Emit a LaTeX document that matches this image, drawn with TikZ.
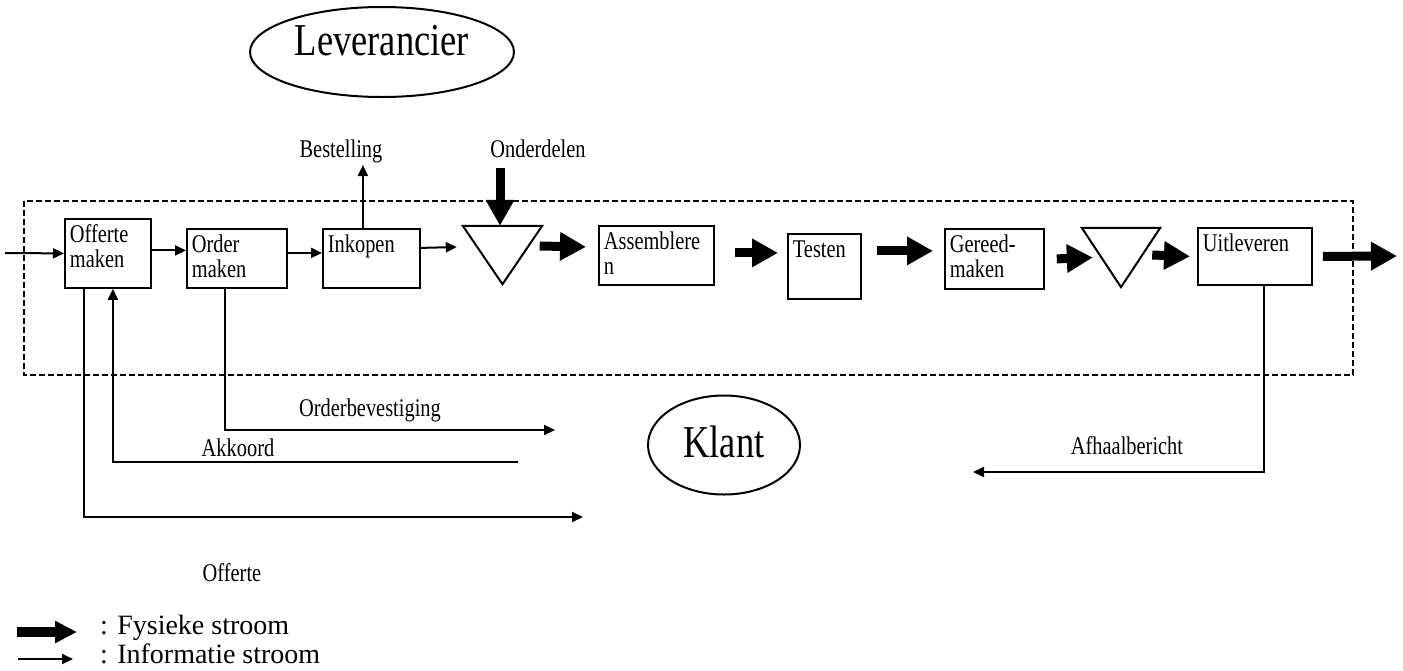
\documentclass[tikz,border=0pt]{standalone}
\usepackage{fontspec}
\setmainfont{Liberation Serif}
\newfontfamily\diagramfont{Liberation Serif}[FakeStretch=0.8]
\newcommand\kleinfont{\diagramfont\fontsize{25.5}{24.5}\selectfont}
\newcommand\grootfont{\diagramfont\fontsize{45.6}{50}\selectfont}
\newcommand\legendafont{\fontsize{28}{32}\selectfont}
\usepackage{tikz}
\usetikzlibrary{arrows.meta,shapes}

\begin{document}
\begin{tikzpicture}[x=1pt,y=-1pt,
  proces/.style 2 args={draw, line width=1.8pt, anchor=north west, align=left,
    inner xsep=5pt, inner ysep=6.5pt, text width=#1pt, text height=17.5pt,
    text depth=#2pt, font=\kleinfont},
  voorraad/.style={minimum width=79pt, minimum height=58pt, inner sep=0pt},
  partij/.style={draw, ellipse, line width=2pt, inner sep=0pt, font=\grootfont},
  tekst/.style={anchor=base, inner sep=0pt, font=\kleinfont},
  info/.style={line width=2pt, -{Triangle[length=11pt,width=10pt]}},
  fysiek/.style={line width=9pt, -{Triangle[length=26pt,width=27pt]}},
  grens/.style={line width=1.5pt, dash pattern=on 6pt off 3pt}]
\useasboundingbox (0,0) rectangle (1403,670);

% systeemgrens
\draw [grens] (24,201) rectangle (1353,375);

\node [partij, minimum width=264pt, minimum height=90pt, text height=30pt, text depth=24pt] (leverancier) at (382,52) {Leverancier};
\node [partij, minimum width=152pt, minimum height=99pt, text height=30pt, text depth=6pt] (klant) at (724,445) {Klant};

% processen
\node [proces={76}{38.5}] (offerte) at (64,218) {Offerte\\maken};
\node [proces={90}{28.5}] (order) at (186,228) {Order\\maken};
\node [proces={87}{28.5}] (inkopen) at (322,228) {Inkopen};
\node [proces={105}{28.5}] (assembleren) at (598,225) {Assemblere\\n};
\node [proces={63}{34.5}] (testen) at (787,233) {Testen};
\node [proces={89}{29.5}] (gereed) at (944,228) {Gereed-\\maken};
\node [proces={104}{26.5}] (uitleveren) at (1197,227) {Uitleveren};

% voorraden
\node [voorraad] (voorraad1) at (502.5,255) {};
\node [voorraad, minimum width=78pt, minimum height=59pt] (voorraad2) at (1121,257.5) {};
\draw [line width=2pt] (voorraad1.north west) -- (voorraad1.north east) -- (voorraad1.south) -- cycle;
\draw [line width=2pt] (voorraad2.north west) -- (voorraad2.north east) -- (voorraad2.south) -- cycle;

\node [tekst] (bestelling) at (341,157) {Bestelling};
\node [tekst] (onderdelen) at (538,157) {Onderdelen};
\node [tekst] (orderbev) at (370,416) {Orderbevestiging};
\node [tekst] (akk) at (238,456) {Akkoord};
\node [tekst] (off) at (232,581) {Offerte};
\node [tekst] (afh) at (1127,454) {Afhaalbericht};

\coordinate (in) at (5,253);
\coordinate (uit) at (1397,256);
\coordinate (bevestiging) at (555,430);
\coordinate (akkoord) at (518,462);
\coordinate (offend) at (583,517);
\coordinate (afhaal) at (973,472);

% informatie stroom
\draw [info] (in) -- (offerte.west);
\draw [info] ([yshift=3pt]offerte.east) -- ([yshift=8pt]order.west);
\draw [info] ([yshift=5.5pt]order.east) -- ([yshift=5.5pt]inkopen.west);
\draw [info] ([yshift=10.5pt]inkopen.east) -- ([xshift=-6pt,yshift=8pt]voorraad1.west);
\draw [info] ([xshift=-8.5pt]inkopen.north) -- ++(0,-63);
\draw [info] ([xshift=-12pt]order.south) |- (bevestiging);
\draw [info] (akkoord) -| ([xshift=5pt]offerte.south);
\draw [info] ([xshift=-24pt]offerte.south) |- (offend);
\draw [info] ([xshift=9pt]uitleveren.south) |- (afhaal);

% fysieke stroom
\draw [fysiek] ([xshift=-2.5pt,yshift=58pt]voorraad1.north) -- ([xshift=-2.5pt]voorraad1.north);
\draw [fysiek] ([xshift=-2.5pt,yshift=9pt]voorraad1.east) -- ([xshift=-12pt,yshift=8.5pt]assembleren.west);
\draw [fysiek] ([xshift=20pt,yshift=2.5pt]assembleren.east) -- ([xshift=-9pt,yshift=13.5pt]testen.west);
\draw [fysiek] ([xshift=15pt,yshift=15.5pt]testen.east) -- ([xshift=-11pt,yshift=8pt]gereed.west);
\draw [fysiek] ([xshift=12pt]gereed.east) -- ([xshift=11pt]voorraad2.west);
\draw [fysiek] ([xshift=-8pt,yshift=2.5pt]voorraad2.east) -- ([xshift=-7pt]uitleveren.west);
\draw [fysiek] ([xshift=10pt]uitleveren.east) -- (uit);

% legenda
\draw [line width=10pt, -{Triangle[length=22pt,width=21pt]}] (17,632) -- (77,632);
\draw [info] (18,659) -- (73,659);
\node [anchor=base west, inner sep=0pt, font=\legendafont] (legfys) at (100,634) {: Fysieke stroom};
\node [anchor=base west, inner sep=0pt, font=\legendafont] (leginfo) at (100,663) {: Informatie stroom};
\end{tikzpicture}
\end{document}
